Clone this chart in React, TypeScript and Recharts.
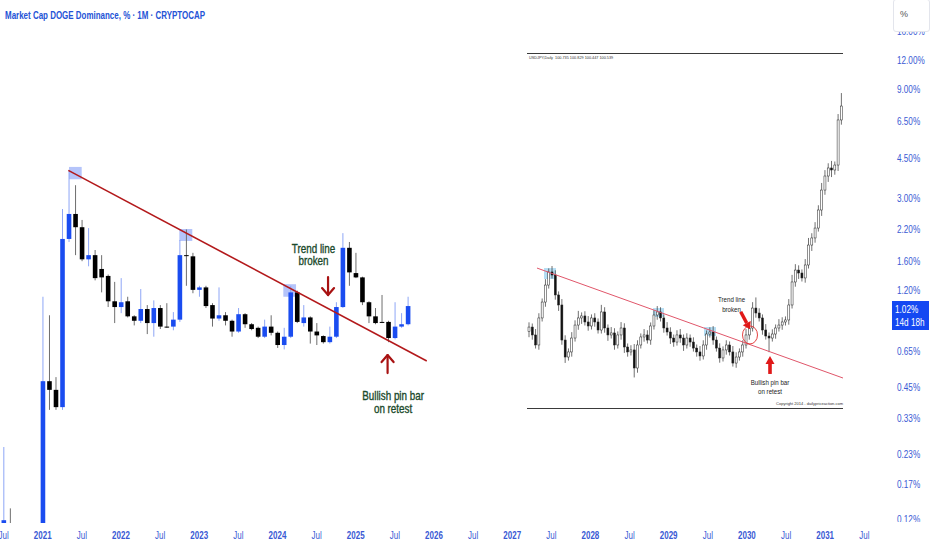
import React from "react";
import { Bar, ComposedChart, ReferenceArea, ReferenceDot, ReferenceLine, XAxis, YAxis } from "recharts";

const FONT = "'Liberation Sans', Arial, sans-serif";
const AXIS_BLUE = "#3a5ad4";

// DOGE dominance, monthly candles (%), Jul 2020 .. Sep 2025
const months = [
  "2020-07", "2020-08", "2020-09", "2020-10", "2020-11", "2020-12",
  "2021-01", "2021-02", "2021-03", "2021-04", "2021-05", "2021-06", "2021-07", "2021-08", "2021-09", "2021-10", "2021-11", "2021-12",
  "2022-01", "2022-02", "2022-03", "2022-04", "2022-05", "2022-06", "2022-07", "2022-08", "2022-09", "2022-10", "2022-11", "2022-12",
  "2023-01", "2023-02", "2023-03", "2023-04", "2023-05", "2023-06", "2023-07", "2023-08", "2023-09", "2023-10", "2023-11", "2023-12",
  "2024-01", "2024-02", "2024-03", "2024-04", "2024-05", "2024-06", "2024-07", "2024-08", "2024-09", "2024-10", "2024-11", "2024-12",
  "2025-01", "2025-02", "2025-03", "2025-04", "2025-05", "2025-06", "2025-07", "2025-08", "2025-09",
];
const opens = [
  0.113, 0.113, 0.106, 0.1, 0.098, 0.101,
  0.096, 0.48, 0.44, 0.37, 2.0, 2.57, 2.25, 1.63, 1.7, 1.48, 1.38, 1.07,
  1.01, 1.07, 0.92, 0.88, 0.99, 0.86, 1.0, 0.83, 0.83, 0.89, 1.7, 1.68,
  1.2, 1.23, 1.03, 0.9, 0.93, 0.88, 0.79, 0.94, 0.85, 0.82, 0.75, 0.83,
  0.78, 0.69, 0.75, 1.17, 0.86, 0.91, 0.79, 0.755, 0.71, 0.75, 1.01, 1.83,
  1.42, 1.36, 1.06, 0.92, 0.87, 0.87, 0.74, 0.83, 0.85,
];
const highs = [
  0.248, 0.134, 0.11, 0.108, 0.112, 0.11,
  1.12, 0.93, 0.5, 2.7, 3.98, 3.43, 2.42, 2.23, 1.79, 1.7, 1.4, 1.3,
  1.35, 1.12, 0.93, 1.21, 1.03, 1.08, 1.03, 1.05, 0.96, 1.98, 2.2, 1.74,
  1.25, 1.25, 1.05, 1.23, 0.96, 0.89, 1.0, 0.95, 0.86, 0.83, 0.89, 0.93,
  0.79, 0.82, 1.25, 1.19, 1.03, 0.92, 0.86, 0.76, 0.83, 1.06, 2.12, 1.94,
  1.74, 1.37, 1.07, 1.0, 1.14, 0.88, 1.06, 0.95, 1.12,
];
const lows = [
  0.1, 0.1, 0.095, 0.094, 0.094, 0.092,
  0.09, 0.36, 0.36, 0.36, 1.94, 1.7, 1.6, 1.52, 1.32, 1.17, 1.01, 0.86,
  0.95, 0.91, 0.84, 0.86, 0.77, 0.75, 0.81, 0.82, 0.8, 0.87, 1.25, 1.16,
  1.12, 1.0, 0.83, 0.88, 0.84, 0.75, 0.78, 0.82, 0.8, 0.74, 0.74, 0.76,
  0.67, 0.66, 0.74, 0.86, 0.83, 0.7, 0.69, 0.7, 0.7, 0.74, 1.0, 1.25,
  1.35, 1.03, 0.86, 0.85, 0.86, 0.71, 0.73, 0.82, 0.84,
];
const closes = [
  0.119, 0.106, 0.1, 0.098, 0.101, 0.096,
  0.48, 0.44, 0.37, 2.0, 2.57, 2.25, 1.63, 1.7, 1.35, 1.36, 1.07, 1.01,
  1.06, 0.92, 0.88, 0.99, 0.86, 1.0, 0.83, 0.826, 0.89, 1.7, 1.69, 1.2,
  1.23, 1.02, 0.9, 0.93, 0.88, 0.79, 0.94, 0.85, 0.81, 0.75, 0.83, 0.78,
  0.69, 0.75, 1.17, 0.87, 0.91, 0.79, 0.76, 0.71, 0.75, 1.01, 1.83, 1.43,
  1.36, 1.06, 0.92, 0.86, 0.865, 0.74, 0.83, 0.85, 1.02,
];

const xTicks = [-6, 0, 6, 12, 18, 24, 30, 36, 42, 48, 54, 60, 66, 72, 78, 84, 90, 96, 102, 108, 114, 120, 126];
const yTicks = [0.12, 0.17, 0.23, 0.33, 0.45, 0.65, 1.2, 1.6, 2.2, 3, 4.5, 6.5, 9, 12, 16];

// drawn trend line (month index, %) and highlighted swing highs
const trendLine = [
  { x: 3.93, y: 3.98 },
  { x: 58.9, y: 0.588 },
];
const highlightBoxes = [
  { m1: 4.03, m2: 5.98, v1: 3.64, v2: 4.12 },
  { m1: 20.95, m2: 22.94, v1: 1.96, v2: 2.21 },
  { m1: 36.9, m2: 38.85, v1: 1.12, v2: 1.27 },
];

// pasted daily chart (USDJPY style), closes and wicks
const insetFirstOpen = 81.5;
const insetClose = [
  81.86, 81.19, 80.34, 82.63, 83.98, 85.42, 86.53, 86.27, 84.58, 83.73,
  80.76, 79.32, 79.75, 80.93, 82.03, 82.63, 82.8, 82.29, 81.95, 82.63,
  82.29, 81.61, 83.14, 81.78, 81.19, 81.36, 80.34, 81.19, 81.78, 80.17,
  79.75, 79.92, 78.39, 80.34, 81.02, 81.19, 80.76, 81.95, 82.88, 83.14,
  82.63, 81.78, 81.44, 80.93, 80.59, 81.19, 80.93, 80.34, 80.93, 80.59,
  80.08, 79.75, 79.41, 80.34, 81.27, 81.44, 80.76, 80.08, 79.24, 79.92,
  80.34, 79.75, 78.81, 79.32, 79.75, 80.34, 81.19, 81.78, 83.47, 83.05,
  82.63, 81.61, 81.1, 80.93, 81.27, 81.78, 82.03, 82.29, 82.46, 83.73,
  85.68, 86.69, 86.44, 86.02, 87.12, 88.81, 89.41, 90.25, 91.78, 93.47,
  94.66, 95.34, 95.17, 95.59, 99.41, 100.59,
];
const insetWickUp = [
  0.4, 0.3, 0.5, 0.4, 0.3, 0.5, 0.3, 0.5, 0.4, 0.3,
  0.5, 0.4, 0.3, 0.5, 0.4, 0.6, 0.3, 0.4, 0.5, 0.3,
  0.4, 0.3, 0.6, 0.4, 0.3, 0.5, 0.4, 0.3, 0.5, 0.4,
  0.3, 0.4, 0.5, 0.4, 0.3, 0.5, 0.4, 0.3, 0.4, 0.5,
  0.4, 0.3, 0.5, 0.4, 0.3, 0.4, 0.5, 0.3, 0.4, 0.3,
  0.4, 0.3, 0.5, 0.4, 0.3, 0.4, 0.5, 0.3, 0.4, 0.3,
  0.4, 0.3, 0.5, 0.4, 0.3, 0.4, 0.5, 0.3, 0.5, 0.9,
  0.4, 0.3, 0.5, 0.3, 0.4, 0.3, 0.5, 0.4, 0.3, 0.5,
  0.6, 0.5, 0.4, 0.3, 0.5, 0.6, 0.4, 0.5, 0.4, 0.6,
  0.5, 0.4, 0.6, 0.3, 0.5, 1.1,
];
const insetWickDown = [
  0.5, 0.4, 0.3, 0.4, 0.3, 0.4, 0.3, 0.3, 0.4, 0.5,
  0.4, 0.5, 0.3, 0.4, 0.3, 0.4, 0.5, 0.3, 0.4, 0.3,
  0.4, 0.3, 0.3, 0.4, 0.5, 0.3, 0.4, 0.3, 0.4, 0.5,
  0.4, 0.3, 0.8, 0.4, 0.3, 0.4, 0.3, 0.4, 0.3, 0.4,
  0.3, 0.4, 0.3, 0.5, 0.4, 0.3, 0.4, 0.5, 0.3, 0.4,
  0.3, 0.4, 0.4, 0.3, 0.4, 0.3, 0.4, 0.3, 0.4, 0.3,
  0.4, 0.3, 0.3, 0.4, 0.3, 0.4, 0.3, 0.4, 0.3, 0.4,
  0.3, 0.4, 0.3, 1.2, 0.3, 0.4, 0.3, 0.4, 0.3, 0.4,
  0.3, 0.4, 0.5, 0.3, 0.4, 0.3, 0.5, 0.4, 0.3, 0.5,
  0.4, 0.5, 0.6, 0.4, 0.5, 0.4,
];
const insetTrend = [
  { x: 2.54, y: 86.86 },
  { x: 95.6, y: 77.54 },
];
const insetBoxes = [
  { i1: 4.67, i2: 8.32, p1: 85.93, p2: 86.86 },
  { i1: 37.8, i2: 41.17, p1: 82.71, p2: 83.47 },
  { i1: 53.33, i2: 56.98, p1: 81.1, p2: 81.86 },
];

const candles = months.map((label, k) => {
  const [yy, mm] = label.split("-").map(Number);
  return {
    m: (yy - 2021) * 12 + (mm - 1),
    open: opens[k],
    high: highs[k],
    low: lows[k],
    close: closes[k],
    range: [lows[k], highs[k]],
  };
});

const insetRows = insetClose.map((c, i) => {
  const o = i === 0 ? insetFirstOpen : insetClose[i - 1];
  const hi = Math.max(o, c) + insetWickUp[i];
  const lo = Math.min(o, c) - insetWickDown[i];
  return { i, open: o, close: c, high: hi, low: lo, range: [lo, hi] };
});

function MonthlyCandle(props: any) {
  const { x, y, width, height, payload } = props;
  if (!payload || x == null || y == null) return null;
  const top = Math.min(y, y + height);
  const bot = Math.max(y, y + height);
  const { open, high, low, close } = payload;
  const span = Math.log(high) - Math.log(low);
  const toY = (v: number) => top + ((Math.log(high) - Math.log(v)) / span) * (bot - top);
  const cx = x + width / 2;
  const rising = close > open;
  const b1 = toY(Math.max(open, close));
  const b2 = toY(Math.min(open, close));
  return (
    <g>
      <line x1={cx} x2={cx} y1={top} y2={bot} stroke={rising ? "#8ea6f6" : "#6e6e6e"} strokeWidth={1} />
      <rect x={cx - 2.3} y={b1} width={4.6} height={Math.max(1, b2 - b1)} fill={rising ? "#1a4cf0" : "#000"} />
    </g>
  );
}

function InsetCandle(props: any) {
  const { x, y, width, height, payload } = props;
  if (!payload || x == null || y == null) return null;
  const top = Math.min(y, y + height);
  const bot = Math.max(y, y + height);
  const { open, high, low, close } = payload;
  const toY = (v: number) => top + ((high - v) / (high - low)) * (bot - top);
  const cx = x + width / 2;
  const rising = close > open;
  const b1 = toY(Math.max(open, close));
  const b2 = toY(Math.min(open, close));
  return (
    <g>
      <line x1={cx} x2={cx} y1={top} y2={bot} stroke="#333" strokeWidth={0.7} />
      <rect
        x={cx - 1}
        y={b1}
        width={2}
        height={Math.max(0.8, b2 - b1)}
        fill={rising ? "#fff" : "#111"}
        stroke="#222"
        strokeWidth={0.5}
      />
    </g>
  );
}

// the reference uses a narrow face; squeeze the regular one horizontally
function NarrowText({ x, y, sx, children, ...rest }: any) {
  return (
    <g transform={`translate(${x},${y}) scale(${sx},1)`}>
      <text x={0} y={0} fontFamily={FONT} {...rest}>
        {children}
      </text>
    </g>
  );
}

function TimeTick(props: any) {
  const { x, y, payload } = props;
  const m = payload.value;
  const isYear = ((m % 12) + 12) % 12 === 0;
  const label = isYear ? String(2021 + m / 12) : "Jul";
  return (
    <NarrowText x={x} y={y} sx={0.76} dy="0.71em" textAnchor="middle" fill={AXIS_BLUE} fontSize={10.5} fontWeight={isYear ? 700 : 400}>
      {label}
    </NarrowText>
  );
}

function PriceTick(props: any) {
  const { x, y, payload } = props;
  return (
    <NarrowText x={x} y={y} sx={0.78} dy="0.355em" textAnchor="start" fill={AXIS_BLUE} fontSize={10.5}>
      {`${payload.value.toFixed(2)}%`}
    </NarrowText>
  );
}

const twoLines = (a: string, b: string, size: number, gap: number, color: string, sx: number, bold = 0) => (p: any) => (
  <g>
    <NarrowText x={p.cx} y={p.cy} sx={sx} textAnchor="middle" fill={color} fontSize={size} stroke={bold ? color : "none"} strokeWidth={bold}>
      {a}
    </NarrowText>
    <NarrowText x={p.cx} y={p.cy + gap} sx={sx} textAnchor="middle" fill={color} fontSize={size} stroke={bold ? color : "none"} strokeWidth={bold}>
      {b}
    </NarrowText>
  </g>
);

const downArrow = (p: any) => (
  <g stroke="#a81212" strokeWidth={2.2} fill="none" strokeLinecap="round" strokeLinejoin="round">
    <line x1={p.cx} y1={p.cy - 18} x2={p.cx} y2={p.cy} />
    <polyline points={`${p.cx - 6},${p.cy - 7} ${p.cx},${p.cy} ${p.cx + 6},${p.cy - 7}`} />
  </g>
);

const upArrow = (p: any) => (
  <g stroke="#a81212" strokeWidth={2.2} fill="none" strokeLinecap="round" strokeLinejoin="round">
    <line x1={p.cx} y1={p.cy + 18} x2={p.cx} y2={p.cy} />
    <polyline points={`${p.cx - 6},${p.cy + 7} ${p.cx},${p.cy} ${p.cx + 6},${p.cy + 7}`} />
  </g>
);

const insetUpArrow = (p: any) => (
  <g fill="#e01818">
    <rect x={p.cx - 1.8} y={p.cy + 7} width={3.6} height={11} />
    <polygon points={`${p.cx - 4.5},${p.cy + 8} ${p.cx},${p.cy} ${p.cx + 4.5},${p.cy + 8}`} />
  </g>
);

const insetDiagArrow = (p: any) => {
  // pointing down-right onto the circle
  const dx = 9.3, dy = 17.6;
  const len = Math.hypot(dx, dy);
  const ux = dx / len, uy = dy / len;
  const bx = p.cx - ux * 7, by = p.cy - uy * 7;
  const nx = -uy, ny = ux;
  return (
    <g fill="#e01818">
      <line x1={p.cx - dx} y1={p.cy - dy} x2={bx} y2={by} stroke="#e01818" strokeWidth={3.4} />
      <polygon points={`${p.cx},${p.cy} ${bx + nx * 4.5},${by + ny * 4.5} ${bx - nx * 4.5},${by - ny * 4.5}`} />
    </g>
  );
};

const insetCircle = (p: any) => <ellipse cx={p.cx} cy={p.cy} rx={7.5} ry={9} fill="none" stroke="#e02a2a" strokeWidth={0.9} />;

function InsetChart() {
  return (
    <div
      style={{
        position: "absolute",
        left: 527,
        top: 53,
        width: 316,
        height: 354,
        borderTop: "1px solid #3a3a3a",
        borderBottom: "1px solid #3a3a3a",
      }}
    >
      <div style={{ position: "absolute", left: 2, top: 2, fontSize: 3.8, color: "#333", fontFamily: FONT, whiteSpace: "nowrap" }}>
        USDJPY,Daily&nbsp; 100.735 100.829 100.447 100.539
      </div>
      <ComposedChart width={316} height={354} data={insetRows} margin={{ top: 0, right: 0, bottom: 0, left: 0 }}>
        <XAxis dataKey="i" type="number" domain={[-0.5, 95.6]} allowDataOverflow hide />
        <YAxis domain={[75, 105]} allowDataOverflow hide />
        {insetBoxes.map((b, k) => (
          <ReferenceArea key={k} x1={b.i1} x2={b.i2} y1={b.p1} y2={b.p2} fill="#8ccbec" fillOpacity={0.65} stroke="none" />
        ))}
        <Bar dataKey="range" shape={<InsetCandle />} barSize={2} isAnimationActive={false} />
        <ReferenceLine segment={insetTrend} stroke="#e0566a" strokeWidth={1} />
        <ReferenceDot x={67.32} y={81.19} r={0} shape={insetCircle} />
        <ReferenceDot x={67.32} y={81.67} r={0} shape={insetDiagArrow} />
        <ReferenceDot x={73.4} y={79.41} r={0} shape={insetUpArrow} />
        <ReferenceDot x={61.7} y={83.98} r={0} shape={twoLines("Trend line", "broken", 7.5, 9.5, "#222", 0.82)} />
        <ReferenceDot x={73.4} y={76.95} r={0} shape={twoLines("Bullish pin bar", "on retest", 7.5, 9.5, "#222", 0.82)} />
      </ComposedChart>
      <div
        style={{
          position: "absolute",
          right: 0,
          top: 347,
          fontSize: 4,
          color: "#333",
          fontFamily: FONT,
          whiteSpace: "nowrap",
        }}
      >
        Copyright 2014 - dailypriceaction.com
      </div>
    </div>
  );
}

export default function App() {
  return (
    <div style={{ position: "absolute", left: 0, top: 0, width: 932, height: 550, background: "#fff", overflow: "hidden", fontFamily: FONT }}>
      <ComposedChart width={932} height={550} data={candles} margin={{ top: 0, right: 0, bottom: 0, left: 0 }}>
        <XAxis
          dataKey="m"
          type="number"
          domain={[-6.55, 130.4]}
          allowDataOverflow
          ticks={xTicks}
          interval={0}
          tick={<TimeTick />}
          axisLine={false}
          tickLine={false}
          tickSize={0}
          tickMargin={9}
          height={27}
        />
        <YAxis
          orientation="right"
          scale="log"
          domain={[0.1157, 21.99]}
          allowDataOverflow
          ticks={yTicks}
          interval={0}
          width={39}
          axisLine={false}
          tickLine={false}
          tickSize={0}
          tickMargin={4}
          tick={<PriceTick />}
        />
        {highlightBoxes.map((b, k) => (
          <ReferenceArea key={k} x1={b.m1} x2={b.m2} y1={b.v1} y2={b.v2} fill="#5a7df5" fillOpacity={0.45} stroke="none" />
        ))}
        <Bar dataKey="range" shape={<MonthlyCandle />} barSize={5} isAnimationActive={false} />
        <ReferenceLine segment={trendLine} stroke="#b3191b" strokeWidth={1.6} />
        <ReferenceDot x={41.53} y={1.745} r={0} shape={twoLines("Trend line", "broken", 12, 12.5, "#1b4a2c", 0.82, 0.35)} />
        <ReferenceDot x={53.73} y={0.397} r={0} shape={twoLines("Bullish pin bar", "on retest", 12, 12.5, "#1b4a2c", 0.82, 0.35)} />
        <ReferenceDot x={43.76} y={1.139} r={0} shape={downArrow} />
        <ReferenceDot x={52.89} y={0.624} r={0} shape={upArrow} />
      </ComposedChart>

      <svg width={260} height={26} style={{ position: "absolute", left: 0, top: 0 }}>
        <text
          x={5}
          y={18.5}
          textLength={200}
          lengthAdjust="spacingAndGlyphs"
          fontFamily={FONT}
          fontSize={10}
          fontWeight={700}
          fill="#2453d6"
        >
          Market Cap DOGE Dominance, % · 1M · CRYPTOCAP
        </text>
      </svg>

      <InsetChart />

      <div
        style={{
          position: "absolute",
          left: 893,
          top: -1,
          width: 37,
          height: 33,
          background: "#fff",
          border: "1px solid #e3e5ec",
          borderRadius: 3,
          boxSizing: "border-box",
          fontSize: 9,
          color: "#555",
          paddingLeft: 6,
          lineHeight: "28px",
        }}
      >
        %
      </div>
      <div
        style={{
          position: "absolute",
          left: 892,
          top: 301,
          width: 37,
          height: 29,
          background: "#1448f2",
          boxSizing: "border-box",
        }}
      >
        <div
          style={{
            position: "absolute",
            left: 3,
            top: 2,
            color: "#fff",
            fontSize: 10.5,
            lineHeight: "13px",
            whiteSpace: "nowrap",
            transform: "scaleX(0.78)",
            transformOrigin: "left center",
          }}
        >
          1.02%
          <br />
          14d 18h
        </div>
      </div>
      <div style={{ position: "absolute", left: 893, top: 522, width: 39, height: 28, background: "#fff" }} />
    </div>
  );
}
